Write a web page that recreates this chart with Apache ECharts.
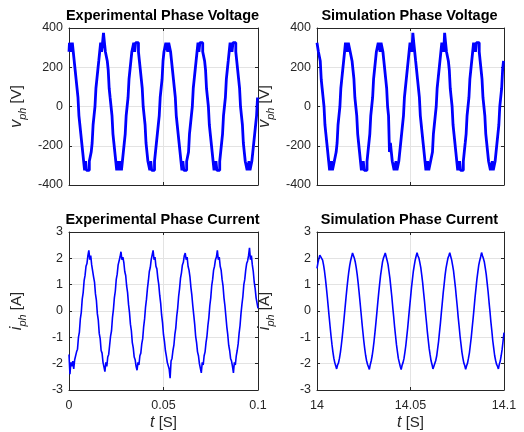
<!DOCTYPE html>
<html><head><meta charset="utf-8">
<script src="https://cdn.jsdelivr.net/npm/echarts@6/dist/echarts.min.js"></script>
<style>html,body{margin:0;padding:0;background:#fff}#c{width:524px;height:432px}</style>
</head><body><div id="c"></div><script>
// ---- sampling grid ----
const sampleStep = 0.0005;          // s
const expTimeStart = 0;             // s
const simTimeStart = 14;            // s

// ---- tick settings ----
const voltageTicks = [-400, -200, 0, 200, 400];
const currentTicks = [-3, -2, -1, 0, 1, 2, 3];
const expTimeTicks = [0, 0.05, 0.1];
const simTimeTicks = [14, 14.05, 14.1];

// ---- titles ----
const panelTitles = ['Experimental Phase Voltage', 'Simulation Phase Voltage',
                     'Experimental Phase Current', 'Simulation Phase Current'];

// ---- series values ----
const expVoltage = [279,325,325,279,325,279,232,186,139,93,
46,-46,-93,-139,-186,-232,-279,-325,-279,-325,
-325,-325,-279,-279,-232,-186,-93,-46,0,93,
139,186,232,279,325,279,325,375,325,279,
279,232,186,93,46,0,-46,-139,-186,-232,
-279,-325,-279,-325,-325,-279,-325,-279,-232,-186,
-139,-46,0,46,139,186,232,279,279,325,
279,325,325,325,279,232,186,139,93,0,
-46,-93,-186,-232,-279,-279,-325,-279,-325,-325,
-325,-279,-232,-186,-139,-93,-46,46,93,139,
232,279,279,325,325,279,325,325,279,232,
186,139,93,46,-46,-93,-139,-186,-232,-279,
-325,-279,-325,-325,-325,-279,-279,-232,-139,-93,
-46,0,93,139,186,232,279,325,279,325,
325,325,279,279,232,186,93,46,0,-93,
-139,-186,-232,-279,-325,-325,-279,-325,-325,-325,
-279,-232,-186,-139,-46,0,46,139,186,232,
279,325,325,279,325,325,325,279,232,186,
139,93,0,-46,-93,-186,-232,-279,-279,-325,
-325,-279,-325,-325,-279,-232,-186,-139,-93,-46,
46];

const simVoltage = [325,325,279,279,232,139,93,46,0,-93,
-139,-186,-232,-279,-325,-325,-279,-325,-325,-279,
-279,-232,-186,-93,-46,0,93,139,186,232,
279,325,325,279,325,325,279,279,232,186,
139,46,0,-46,-139,-186,-232,-279,-325,-325,
-279,-325,-325,-325,-279,-232,-186,-139,-46,0,
46,139,186,232,279,279,325,325,279,325,
325,279,232,186,139,93,0,-46,-232,-186,
-232,-279,-279,-325,-325,-279,-325,-325,-279,-232,
-186,-139,-93,-46,46,93,139,186,232,279,
325,325,279,375,325,279,232,186,139,93,
46,-46,-93,-139,-186,-232,-279,-325,-325,-279,
-325,-325,-279,-279,-232,-139,-93,-46,0,93,
139,186,232,279,325,325,279,375,325,279,
279,232,186,93,46,0,-93,-139,-186,-232,
-279,-325,-325,-279,-325,-325,-325,-279,-232,-186,
-139,-46,0,46,139,186,232,279,325,325,
279,325,325,325,279,232,186,139,46,0,
-46,-139,-186,-232,-279,-279,-325,-325,-279,-325,
-325,-279,-232,-186,-139,-93,0,46,93,186,
232];

const expCurrent = [-1.65,-2.4,-1.95,-2.1,-1.9,-2.2,-1.85,-1.9,-1.55,-1.45,
-1.0,-0.8,-0.3,-0.05,0.45,0.7,1.15,1.35,1.7,1.8,
2.1,2.3,1.95,2.1,1.75,1.7,1.3,1.1,0.65,0.4,
-0.1,-0.35,-0.85,-1.05,-1.5,-1.6,-1.95,-1.9,-2.3,-1.95,
-2.1,-1.75,-1.65,-1.3,-0.95,-0.75,-0.25,0.05,0.5,0.75,
1.2,1.4,1.75,1.8,2.05,2.25,1.95,2.05,1.85,1.5,
1.35,0.95,0.7,0.25,-0.05,-0.5,-0.75,-1.2,-1.4,-1.75,
-1.85,-2.1,-2.25,-1.95,-2.05,-1.7,-1.6,-1.25,-1.05,-0.6,
-0.3,0.15,0.45,0.85,1.15,1.5,1.65,1.95,2.0,2.3,
1.95,2.05,1.7,1.6,1.25,1.0,0.6,0.3,-0.15,-0.45,
-0.9,-1.15,-1.5,-1.7,-1.95,-1.95,-2.2,-2.55,-1.9,-1.8,
-1.5,-1.3,-0.9,-0.65,-0.2,0.1,0.55,0.85,1.25,1.45,
1.75,1.85,2.1,2.2,1.95,2.05,1.7,1.55,1.3,0.9,
0.6,0.2,-0.15,-0.5,-0.95,-1.2,-1.55,-1.7,-2.0,-1.95,
-2.35,-1.95,-2.05,-1.7,-1.55,-1.2,-0.95,-0.55,-0.25,0.2,
0.5,0.95,1.2,1.55,1.7,1.95,2.05,2.3,1.95,2.05,
1.7,1.55,1.2,0.95,0.5,0.2,-0.2,-0.6,-0.9,-1.3,
-1.5,-1.8,-1.9,-2.1,-2.35,-1.95,-2.05,-1.7,-1.5,-1.25,
-0.85,-0.55,-0.1,0.25,0.55,1.0,1.2,1.55,1.8,1.9,
2.1,2.4,1.95,2.1,1.75,1.5,1.1,0.85,0.5,0.3,
0.1];

const simCurrent = [1.62,1.83,1.99,2.12,2.18,2.08,1.93,1.75,1.52,1.23,
0.90,0.54,0.16,-0.22,-0.59,-0.95,-1.27,-1.55,-1.79,-1.96,
-2.08,-2.2,-2.05,-1.97,-1.80,-1.58,-1.30,-0.98,-0.63,-0.26,
0.12,0.50,0.86,1.19,1.49,1.73,1.92,2.06,2.2,2.1,
2.00,1.85,1.64,1.38,1.07,0.72,0.35,-0.03,-0.41,-0.77,
-1.12,-1.42,-1.68,-1.88,-2.02,-2.12,-2.22,-2.03,-1.89,-1.70,
-1.45,-1.15,-0.81,-0.45,-0.07,0.32,0.69,1.03,1.35,
1.60,1.85,2.0,2.1,2.2,2.06,1.92,1.76,1.50,1.24,
0.89,0.55,0.15,-0.21,-0.60,-0.94,-1.28,-1.54,-1.80,-1.95,
-2.1,-2.22,-2.06,-1.96,-1.81,-1.57,-1.31,-0.97,-0.64,-0.25,
0.13,0.49,0.87,1.18,1.50,1.72,1.93,2.08,2.21,2.09,
2.01,1.84,1.65,1.37,1.08,0.71,0.36,-0.04,-0.40,-0.78,
-1.11,-1.43,-1.67,-1.89,-2.03,-2.2,-2.1,-2.04,-1.88,-1.71,
-1.44,-1.16,-0.80,-0.46,-0.06,0.31,0.70,1.02,1.36,
1.63,1.82,2.0,2.1,2.21,2.07,1.94,1.74,1.53,1.22,
0.91,0.53,0.17,-0.23,-0.58,-0.96,-1.26,-1.56,-1.78,-1.97,
-2.07,-2.21,-2.08,-1.98,-1.79,-1.59,-1.29,-0.99,-0.62,-0.27,
0.11,0.51,0.85,1.20,1.48,1.74,1.91,2.05,2.22,2.1,
1.99,1.86,1.63,1.39,1.06,0.73,0.34,-0.02,-0.42,-0.76,
-1.13,-1.41,-1.69,-1.87,-2.02,-2.1,-2.2,-2.02,-1.90,-1.69,
-1.46,-1.14,-0.82];

// ---- build ----
const FONT = '"Liberation Sans", Arial, Helvetica, sans-serif';
const AX = '#262626';
const GRIDC = '#e3e3e3';
const grids = [
  {left: 69, top: 28, width: 189, height: 157},
  {left: 317, top: 28, width: 187, height: 157},
  {left: 69, top: 232, width: 189, height: 159},
  {left: 317, top: 232, width: 187, height: 159}
];
function pairs(start, vals) {
  return vals.map((v, i) => [+(start + i * sampleStep).toFixed(6), v]);
}
const panels = [
  {x: expTimeTicks, y: voltageTicks, data: pairs(expTimeStart, expVoltage), xl: false, yname: '{it|v}{sub|ph}{n| [V]}', lw: 2.8, step: 'middle'},
  {x: simTimeTicks, y: voltageTicks, data: pairs(simTimeStart, simVoltage), xl: false, yname: '{it|v}{sub|ph}{n| [V]}', lw: 2.8, step: 'middle'},
  {x: expTimeTicks, y: currentTicks, data: pairs(expTimeStart, expCurrent), xl: true, yname: '{it|i}{sub|ph}{n| [A]}', lw: 1.6, step: false},
  {x: simTimeTicks, y: currentTicks, data: pairs(simTimeStart, simCurrent), xl: true, yname: '{it|i}{sub|ph}{n| [A]}', lw: 1.6, step: false}
];
const richName = {
  it: {fontStyle: 'italic', fontSize: 16, color: AX, fontFamily: FONT, lineHeight: 22, verticalAlign: 'middle'},
  sub: {fontStyle: 'italic', fontSize: 11, color: AX, fontFamily: FONT, lineHeight: 11, verticalAlign: 'bottom'},
  n: {fontSize: 15, color: AX, fontFamily: FONT, lineHeight: 22, verticalAlign: 'middle'}
};
const xAxes = [], yAxes = [], series = [], graphics = [];
panels.forEach((p, g) => {
  const xmin = p.x[0], xmax = p.x[p.x.length - 1], xint = p.x[1] - p.x[0];
  const ymin = p.y[0], ymax = p.y[p.y.length - 1], yint = p.y[1] - p.y[0];
  const common = {gridIndex: g, type: 'value', min: xmin, max: xmax, interval: xint,
    axisLine: {show: true, onZero: false, lineStyle: {color: AX, width: 1}},
    axisTick: {show: true, inside: true, length: 3, lineStyle: {color: AX}}};
  xAxes.push(Object.assign({}, common, {position: 'bottom',
    axisLabel: {show: p.xl, color: AX, fontSize: 12.5, fontFamily: FONT, margin: 9,
      formatter: v => String(+v.toFixed(2))},
    splitLine: {show: true, lineStyle: {color: GRIDC, width: 1}},
    name: p.xl ? '{it|t}{n| [S]}' : '', nameLocation: 'middle', nameGap: 22,
    nameTextStyle: {color: AX, fontSize: 15, fontFamily: FONT, rich: richName}}));
  xAxes.push(Object.assign({}, common, {position: 'top', axisLabel: {show: false}, splitLine: {show: false}}));
  const ycommon = {gridIndex: g, type: 'value', min: ymin, max: ymax, interval: yint,
    axisLine: {show: true, onZero: false, lineStyle: {color: AX, width: 1}},
    axisTick: {show: true, inside: true, length: 3, lineStyle: {color: AX}}};
  yAxes.push(Object.assign({}, ycommon, {position: 'left',
    axisLabel: {show: true, color: AX, fontSize: 12.5, fontFamily: FONT, margin: 6},
    splitLine: {show: true, lineStyle: {color: GRIDC, width: 1}},
    name: p.yname, nameLocation: 'middle', nameGap: 41,
    nameTextStyle: {color: AX, fontSize: 15, fontFamily: FONT, rich: richName}}));
  yAxes.push(Object.assign({}, ycommon, {position: 'right', axisLabel: {show: false}, splitLine: {show: false}}));
  series.push({type: 'line', xAxisIndex: g * 2, yAxisIndex: g * 2, data: p.data,
    showSymbol: false, symbol: 'none', step: p.step, clip: true,
    lineStyle: {color: '#0000ff', width: p.lw}, itemStyle: {color: '#0000ff'},
    emphasis: {disabled: true}, silent: true, z: 2});
  const gr = grids[g];
  graphics.push({type: 'text', x: gr.left + gr.width / 2 - 1, y: gr.top - 12.5,
    style: {text: panelTitles[g], font: 'bold 14.5px ' + FONT, fill: '#000',
      align: 'center', verticalAlign: 'middle', textAlign: 'center', textVerticalAlign: 'middle'}});
});
const chart = echarts.init(document.getElementById('c'), null, {renderer: 'canvas'});
chart.setOption({
  animation: false,
  backgroundColor: '#fff',
  grid: grids.map(g => Object.assign({containLabel: false}, g)),
  xAxis: xAxes, yAxis: yAxes, series: series, graphic: graphics
});
</script></body></html>
